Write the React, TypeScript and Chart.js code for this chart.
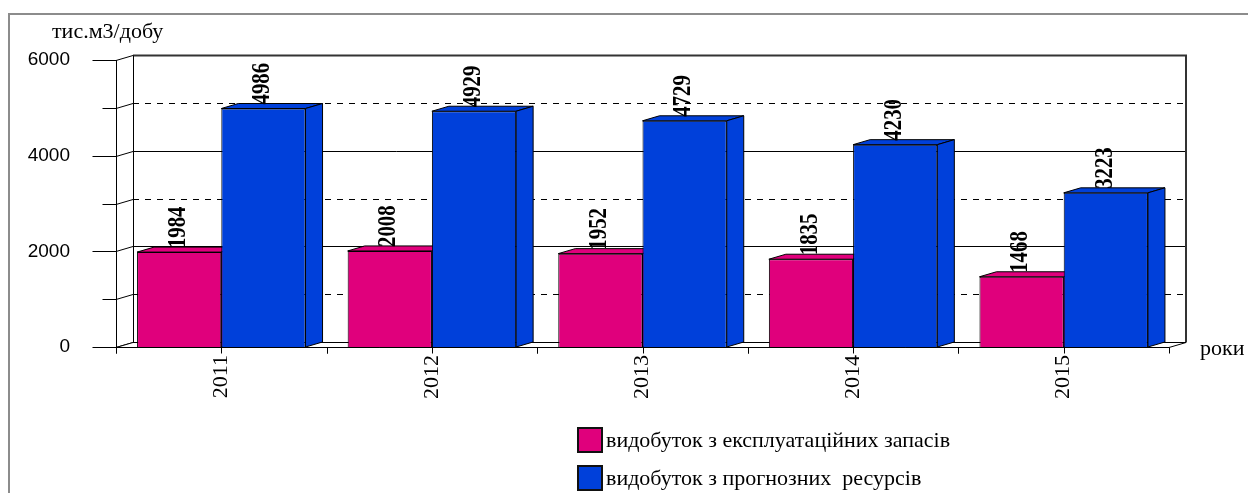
import React, { useEffect, useRef } from 'react';
import { Chart, registerables } from 'chart.js';

Chart.register(...registerables);

const years = ['2011', '2012', '2013', '2014', '2015'];
const exploitationValues = [1984, 2008, 1952, 1835, 1468];
const forecastValues = [4986, 4929, 4729, 4230, 3223];
const seriesNames = ['видобуток з експлуатаційних запасів', 'видобуток з прогнозних  ресурсів'];
const yAxisTitle = 'тис.м3/добу';
const xAxisTitle = 'роки';
const yMin = 0;
const yMax = 6000;
const yLabelStep = 2000;
const yGridStep = 1000;

const PINK = '#E0007C';
const BLUE = '#0040DA';
const DX = 17;
const DY = 5;

const threeDPlugin = {
  id: 'threeD',
  beforeDraw(chart: any) {
    const ctx = chart.ctx;
    ctx.save();
    ctx.fillStyle = '#ffffff';
    ctx.fillRect(0, 0, chart.width, chart.height);
    ctx.strokeStyle = '#8c8c8c';
    ctx.lineWidth = 2;
    ctx.strokeRect(9, 14, chart.width + 40, chart.height + 40);
    ctx.restore();
  },
  beforeDatasetsDraw(chart: any) {
    const { ctx, chartArea: a, scales } = chart;
    const y = scales.y;
    ctx.save();
    ctx.lineWidth = 1;
    for (let v = yMin; v <= yMax; v += yGridStep) {
      const py = Math.round(y.getPixelForValue(v)) + 0.5;
      const major = v % yLabelStep === 0;
      ctx.strokeStyle = '#000';
      ctx.setLineDash(major ? [] : [6, 6]);
      ctx.beginPath();
      ctx.moveTo(a.left + DX, py - DY);
      ctx.lineTo(a.right + DX, py - DY);
      ctx.stroke();
      ctx.setLineDash([]);
      ctx.beginPath();
      ctx.moveTo(a.left, py);
      ctx.lineTo(a.left + DX, py - DY);
      ctx.stroke();
    }
    const topY = Math.round(y.getPixelForValue(yMax)) + 0.5;
    const botY = Math.round(y.getPixelForValue(yMin)) + 0.5;
    ctx.strokeStyle = '#333';
    ctx.lineWidth = 2;
    ctx.beginPath();
    ctx.moveTo(a.left + DX, topY - DY);
    ctx.lineTo(a.right + DX, topY - DY);
    ctx.lineTo(a.right + DX, botY - DY);
    ctx.stroke();
    ctx.lineWidth = 1;
    ctx.strokeStyle = '#000';
    ctx.beginPath();
    ctx.moveTo(Math.round(a.left + DX) + 0.5, topY - DY);
    ctx.lineTo(Math.round(a.left + DX) + 0.5, botY - DY);
    ctx.stroke();
    ctx.fillStyle = '#ffffff';
    ctx.beginPath();
    ctx.moveTo(a.left, botY);
    ctx.lineTo(a.left + DX, botY - DY);
    ctx.lineTo(a.right + DX, botY - DY);
    ctx.lineTo(a.right, botY);
    ctx.closePath();
    ctx.fill();
    ctx.stroke();

    chart.data.datasets.forEach((ds: any, di: number) => {
      const meta = chart.getDatasetMeta(di);
      meta.data.forEach((el: any) => {
        const p = el.getProps(['x', 'y', 'base', 'width'], true);
        const l = p.x - p.width / 2;
        const r = p.x + p.width / 2;
        ctx.fillStyle = ds.backgroundColor;
        ctx.strokeStyle = '#000';
        ctx.lineWidth = 1;
        ctx.beginPath();
        ctx.moveTo(l, p.y);
        ctx.lineTo(l + DX, p.y - DY);
        ctx.lineTo(r + DX, p.y - DY);
        ctx.lineTo(r, p.y);
        ctx.closePath();
        ctx.fill();
        ctx.stroke();
        ctx.beginPath();
        ctx.moveTo(r, p.y);
        ctx.lineTo(r + DX, p.y - DY);
        ctx.lineTo(r + DX, p.base - DY);
        ctx.lineTo(r, p.base);
        ctx.closePath();
        ctx.fill();
        ctx.stroke();
      });
    });
    ctx.restore();
  },
  afterDatasetsDraw(chart: any) {
    const { ctx, chartArea: a, scales } = chart;
    const x = scales.x;
    const y = scales.y;
    ctx.save();
    ctx.strokeStyle = '#000';
    ctx.lineWidth = 1;
    const axX = Math.round(a.left) + 0.5;
    const botY = Math.round(y.getPixelForValue(yMin)) + 0.5;
    ctx.beginPath();
    ctx.moveTo(axX, Math.round(y.getPixelForValue(yMax)));
    ctx.lineTo(axX, botY + 6);
    ctx.stroke();
    for (let v = yMin; v <= yMax; v += yGridStep) {
      const py = Math.round(y.getPixelForValue(v)) + 0.5;
      const len = v % yLabelStep === 0 ? 24 : 14;
      ctx.beginPath();
      ctx.moveTo(axX - len, py);
      ctx.lineTo(axX, py);
      ctx.stroke();
    }
    ctx.beginPath();
    ctx.moveTo(a.left, botY);
    ctx.lineTo(a.right, botY);
    ctx.stroke();
    const half = (x.getPixelForValue(1) - x.getPixelForValue(0)) / 2;
    years.forEach((_, i) => {
      const c = x.getPixelForValue(i);
      [c - half, c, c + half].forEach((px) => {
        const xx = Math.round(px) + 0.5;
        ctx.beginPath();
        ctx.moveTo(xx, botY);
        ctx.lineTo(xx, botY + 6);
        ctx.stroke();
      });
    });
    // data labels (rotated, condensed bold serif)
    ctx.fillStyle = '#000';
    ctx.font = 'bold 26px "Liberation Serif"';
    ctx.textAlign = 'left';
    ctx.textBaseline = 'middle';
    chart.data.datasets.forEach((ds: any, di: number) => {
      const meta = chart.getDatasetMeta(di);
      meta.data.forEach((el: any, i: number) => {
        const p = el.getProps(['x', 'y'], true);
        ctx.save();
        ctx.translate(p.x - 1, p.y - DY + 1);
        ctx.rotate(-Math.PI / 2);
        ctx.scale(0.8, 1);
        ctx.fillText(String(ds.data[i]), 0, 0);
        ctx.restore();
      });
    });
    ctx.textBaseline = 'alphabetic';
    ctx.font = '22px "Liberation Serif"';
    ctx.fillText(yAxisTitle, 52, 38);
    ctx.fillText(xAxisTitle, 1200, 355);
    chart.data.datasets.forEach((ds: any, di: number) => {
      const bx = 577;
      const by = 427 + di * 38;
      ctx.fillStyle = ds.backgroundColor;
      ctx.fillRect(bx, by, 26, 26);
      ctx.strokeStyle = '#111';
      ctx.lineWidth = 2;
      ctx.strokeRect(bx + 1, by + 1, 24, 24);
      ctx.fillStyle = '#000';
      ctx.font = '22px "Liberation Serif"';
      ctx.textBaseline = 'alphabetic';
      ctx.fillText(ds.label, 606, by + 20);
    });
    ctx.restore();
  },
};

export default function App() {
  const canvasRef = useRef<HTMLCanvasElement | null>(null);

  useEffect(() => {
    const canvas = canvasRef.current;
    if (!canvas) return;
    const chart = new Chart(canvas, {
      type: 'bar',
      data: {
        labels: years,
        datasets: [
          {
            label: seriesNames[0],
            data: exploitationValues,
            backgroundColor: PINK,
            borderColor: '#000',
            borderWidth: 1,
            barPercentage: 1,
            categoryPercentage: 0.8,
          },
          {
            label: seriesNames[1],
            data: forecastValues,
            backgroundColor: BLUE,
            borderColor: '#000',
            borderWidth: 1,
            barPercentage: 1,
            categoryPercentage: 0.8,
          },
        ],
      },
      options: {
        responsive: false,
        animation: false,
        events: [],
        layout: { padding: { left: 0, top: 60, right: 79, bottom: 0 } },
        plugins: {
          legend: { display: false },
          tooltip: { enabled: false },
          title: { display: false },
        },
        scales: {
          x: {
            type: 'category',
            offset: true,
            grid: { display: false, drawTicks: false },
            border: { display: false },
            ticks: {
              autoSkip: false,
              minRotation: 90,
              maxRotation: 90,
              padding: 8,
              color: '#000',
              font: { family: 'Liberation Serif', size: 22 },
            },
            afterFit: (s: any) => {
              s.height = 146;
            },
          },
          y: {
            min: yMin,
            max: yMax,
            grid: { display: false, drawTicks: false },
            border: { display: false },
            ticks: {
              stepSize: yLabelStep,
              padding: 46,
              color: '#000',
              font: { family: 'Liberation Sans', size: 19 },
              callback: (v: any) => String(v),
            },
            afterFit: (s: any) => {
              s.width = 116;
            },
          },
        },
      },
      plugins: [threeDPlugin],
    });
    return () => chart.destroy();
  }, []);

  return (
    <div style={{ position: 'fixed', left: 0, top: 0, width: 1248, height: 493, background: '#fff' }}>
      <canvas ref={canvasRef} width={1248} height={493} style={{ display: 'block', width: 1248, height: 493 }} />
    </div>
  );
}
